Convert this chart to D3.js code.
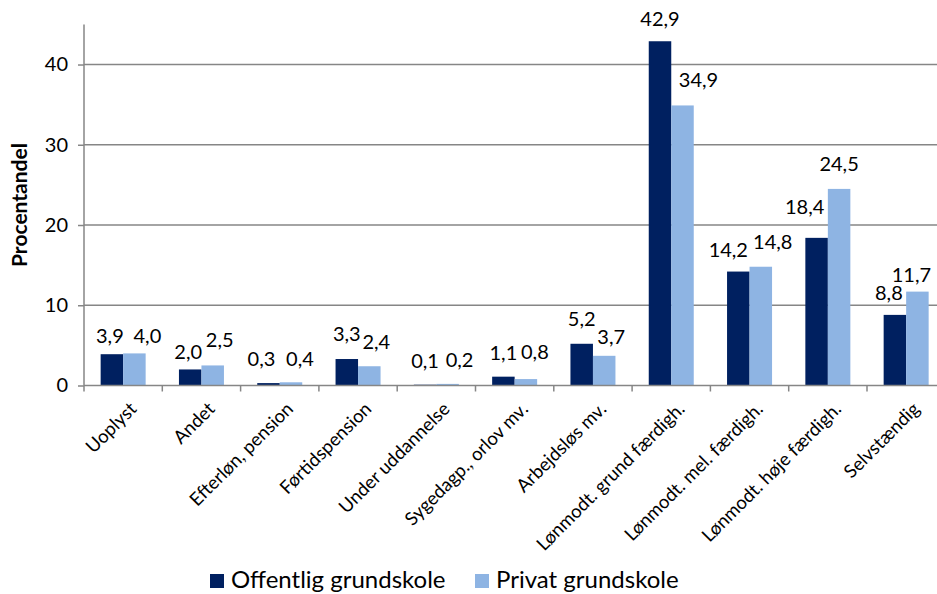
<!DOCTYPE html>
<html><head><meta charset="utf-8">
<script src="https://cdn.jsdelivr.net/npm/d3@7"></script>
<style>
html,body{margin:0;padding:0;background:#fff;overflow:hidden}
text{font-family:Lato,"Open Sans",sans-serif;fill:#000}
</style></head>
<body>
<svg id="c" width="937" height="594"></svg>
<script>
const categories = ["Uoplyst","Andet","Efterløn, pension","Førtidspension","Under uddannelse","Sygedagp., orlov mv.","Arbejdsløs mv.","Lønmodt. grund færdigh.","Lønmodt. mel. færdigh.","Lønmodt. høje færdigh.","Selvstændig"];
const seriesNames = ["Offentlig grundskole","Privat grundskole"];
const offentlig = [3.9,2.0,0.3,3.3,0.1,1.1,5.2,42.9,14.2,18.4,8.8];
const privat = [4.0,2.5,0.4,2.4,0.2,0.8,3.7,34.9,14.8,24.5,11.7];
const yTicks = [0,10,20,30,40];
// manual label nudges (as placed in the original chart)
const dxOff = [-2,-2,-7,0,0,0,0,0,-10,-12,-6];
const dxPri = [13,7,9,7,12,9,7,16,12,0,-6];
const gapOff = [11,10,17,18,17,17,18,15,15,24,15];
const gapPri = [10,18,16,17,17,20,12,18,18,18,10];

const colors = ["#002060","#8EB4E3"];
const svg = d3.select("#c");
const x0 = 84, step = 78.3;
const x = d3.scaleBand().domain(categories).range([x0, x0 + step*categories.length]).paddingInner(0).paddingOuter(0);
const xs = d3.scaleBand().domain([0,1]).range([0, x.bandwidth()]).paddingInner(0).paddingOuter(0.74);
const y = d3.scaleLinear().domain([0,45]).range([385.5, 24.4]);

// gridlines
svg.append("g").selectAll("line").data(yTicks.filter(d=>d>0)).join("line")
  .attr("x1", x0).attr("x2", 937).attr("y1", d=>y(d)).attr("y2", d=>y(d))
  .attr("stroke","#868686").attr("stroke-width",1.5);

// bars
const data = categories.map((c,i)=>({c, vals:[offentlig[i], privat[i]], i}));
const g = svg.append("g").selectAll("g").data(data).join("g").attr("transform", d=>`translate(${x(d.c)},0)`);
g.selectAll("rect").data(d=>d.vals.map((v,k)=>({v,k}))).join("rect")
  .attr("x", d=>xs(d.k)).attr("width", xs.bandwidth())
  .attr("y", d=>y(d.v)).attr("height", d=>y(0)-y(d.v))
  .attr("fill", d=>colors[d.k]);

// labels
const fmt = v => d3.format(".1f")(v).replace(".", ",");
g.selectAll("text").data(d=>d.vals.map((v,k)=>({v,k,i:d.i}))).join("text")
  .attr("x", d=>xs(d.k)+xs.bandwidth()/2 + (d.k===0?dxOff[d.i]:dxPri[d.i]))
  .attr("y", d=>y(d.v) - (d.k===0?gapOff[d.i]:gapPri[d.i]))
  .attr("text-anchor","middle").attr("font-size","20px")
  .text(d=>fmt(d.v));

// y axis
const yAxis = d3.axisLeft(y).tickValues(yTicks).tickSize(6).tickPadding(10).tickFormat(d3.format("d"));
const ya = svg.append("g").attr("transform",`translate(${x0},0)`).call(yAxis);
ya.select(".domain").attr("d", `M0,${y(45)}V${y(0)}`).attr("stroke","#868686").attr("stroke-width",1.5);
ya.selectAll(".tick line").attr("stroke","#868686").attr("stroke-width",1.5);
ya.selectAll(".tick text").attr("font-size","20px").attr("font-family","Lato").attr("fill","#000");

// x axis
const xAxis = d3.axisBottom(x).tickSize(0).tickFormat("");
const xa = svg.append("g").attr("transform",`translate(0,${y(0)})`).call(xAxis);
xa.select(".domain").attr("d", `M${x0},0H937`).attr("stroke","#868686").attr("stroke-width",1.5);
xa.selectAll(".tick").remove();
const bounds = categories.map((c,i)=>x(c)).concat([x0+step*categories.length]);
xa.append("g").selectAll("line").data(bounds).join("line")
  .attr("x1",d=>d).attr("x2",d=>d).attr("y1",0).attr("y2",6)
  .attr("stroke","#868686").attr("stroke-width",1.5);
xa.append("g").selectAll("text").data(categories).join("text")
  .attr("transform", d=>`translate(${x(d)+x.bandwidth()/2+10},${20}) rotate(-45)`)
  .attr("text-anchor","end").attr("dy","0.35em").attr("font-size","18.5px")
  .text(d=>d);

// y title
svg.append("text").attr("transform","translate(27,205) rotate(-90)")
  .attr("text-anchor","middle").attr("font-weight","bold").attr("font-size","21px")
  .text("Procentandel");

// legend
const leg = svg.append("g");
const legX = [210, 475];
seriesNames.forEach((n,k)=>{
  leg.append("rect").attr("x",legX[k]).attr("y",574).attr("width",14).attr("height",14).attr("fill",colors[k]);
  leg.append("text").attr("x",legX[k]+21).attr("y",588).attr("font-size","24px").text(n);
});
</script>
</body></html>
